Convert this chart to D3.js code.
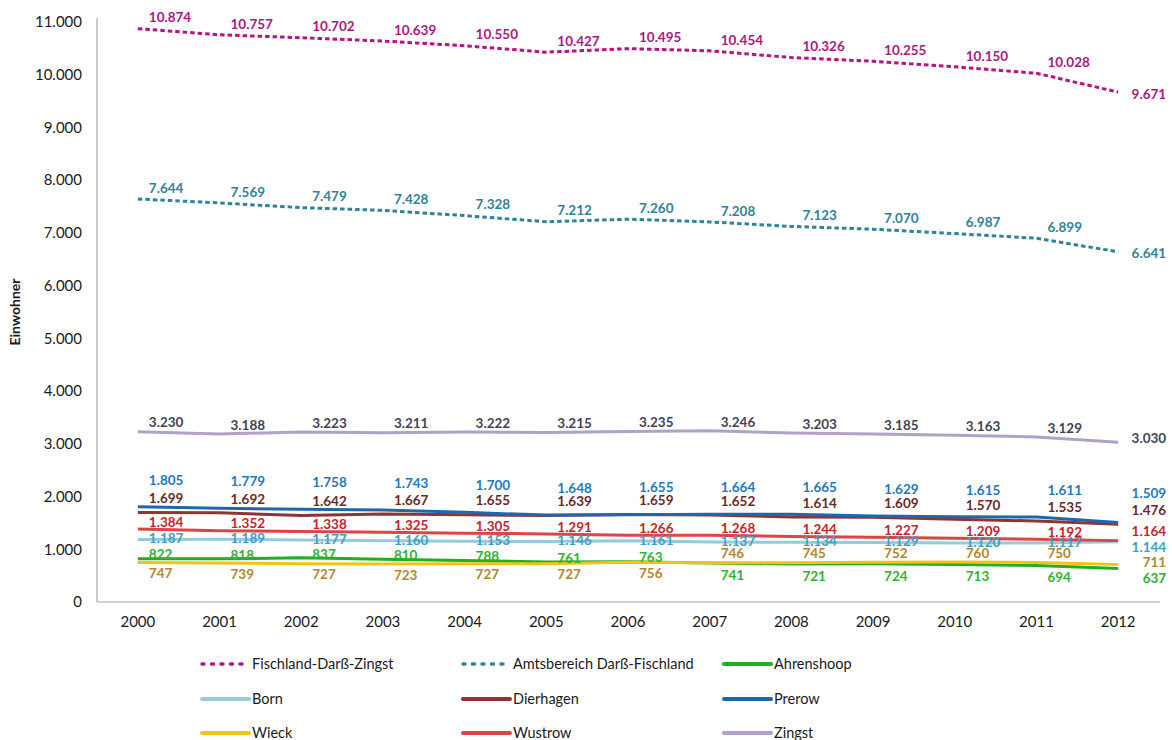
<!DOCTYPE html>
<html>
<head>
<meta charset="utf-8">
<script src="https://cdn.jsdelivr.net/npm/d3@7"></script>
<style>
  html, body { margin: 0; padding: 0; background: #fff; }
  svg { display: block; font-family: Lato, "Open Sans", sans-serif; }
</style>
</head>
<body>
<svg id="chart" width="1172" height="740"></svg>
<script>
// Einwohnerentwicklung im Amtsbereich Darß-Fischland, 2000–2012
const years = ["2000","2001","2002","2003","2004","2005","2006","2007","2008","2009","2010","2011","2012"];
const yTicks = [0,1000,2000,3000,4000,5000,6000,7000,8000,9000,10000,11000];

const fischlandDarssZingst = [10874,10757,10702,10639,10550,10427,10495,10454,10326,10255,10150,10028,9671];
const amtsbereichDarssFischland = [7644,7569,7479,7428,7328,7212,7260,7208,7123,7070,6987,6899,6641];
const ahrenshoop = [822,818,837,810,788,761,763,741,721,724,713,694,637];
const born = [1187,1189,1177,1160,1153,1146,1161,1137,1134,1129,1120,1117,1144];
const dierhagen = [1699,1692,1642,1667,1655,1639,1659,1652,1614,1609,1570,1535,1476];
const prerow = [1805,1779,1758,1743,1700,1648,1655,1664,1665,1629,1615,1611,1509];
const wieck = [747,739,727,723,727,727,756,746,745,752,760,750,711];
const wustrow = [1384,1352,1338,1325,1305,1291,1266,1268,1244,1227,1209,1192,1164];
const zingst = [3230,3188,3223,3211,3222,3215,3235,3246,3203,3185,3163,3129,3030];

const seriesNames = ["Fischland-Darß-Zingst","Amtsbereich Darß-Fischland","Ahrenshoop","Born","Dierhagen","Prerow","Wieck","Wustrow","Zingst"];
const seriesValues = [fischlandDarssZingst, amtsbereichDarssFischland, ahrenshoop, born, dierhagen, prerow, wieck, wustrow, zingst];

// Styling per series: line colour, label colour, dashed, label offset, end-label offset
const styles = {
  "Fischland-Darß-Zingst":      {line:"#b8137f", text:"#b0177c", dash:true,  dy:-11, endDy:2},
  "Amtsbereich Darß-Fischland": {line:"#2f8399", text:"#2f8399", dash:true,  dy:-11, endDy:1},
  "Ahrenshoop":                 {line:"#1faf1f", text:"#2eb42e", dash:false, dy:-4,  endDy:10},
  "Born":                       {line:"#93cbdc", text:"#3f9ec2", dash:false, dy:-1,  endDy:6},
  "Dierhagen":                  {line:"#8e3432", text:"#6a2a28", dash:false, dy:-14, endDy:-14},
  "Prerow":                     {line:"#1d68ad", text:"#2279c3", dash:false, dy:-27, endDy:-29},
  "Wieck":                      {line:"#f2c314", text:"#b1872d", dash:false, dy:11,  endDy:-2},
  "Wustrow":                    {line:"#de4444", text:"#c4232b", dash:false, dy:-7,  endDy:-9},
  "Zingst":                     {line:"#b1a1c8", text:"#434356", dash:false, dy:-9,  endDy:-4}
};

const de = d3.formatLocale({decimal: ",", thousands: ".", grouping: [3], currency: ["", " €"]});
const fmt = de.format(",");

const svg = d3.select("#chart");
const x = d3.scaleBand().domain(years).range([97, 1159]);
const y = d3.scaleLinear().domain([0, 11000]).range([602, 22]);
const px = yr => x(yr) + x.bandwidth() / 2;

// Axes
const yAxis = svg.append("g").attr("transform", "translate(97,0)")
  .call(d3.axisLeft(y).tickValues(yTicks).tickFormat(fmt).tickSize(0).tickPadding(15));
yAxis.select(".domain").attr("stroke", "#a6a6a6").attr("stroke-width", 1.2).attr("d", "M0,18V602");
yAxis.selectAll("text").attr("font-size", 15).attr("fill", "#1a1a1a").attr("font-family", "Lato, sans-serif");

const xAxis = svg.append("g").attr("transform", "translate(0,602)")
  .call(d3.axisBottom(x).tickSize(0).tickPadding(14));
xAxis.select(".domain").attr("stroke", "#a6a6a6").attr("stroke-width", 1.2).attr("d", "M97,0H1160");
xAxis.selectAll("text").attr("font-size", 15).attr("fill", "#1a1a1a").attr("font-family", "Lato, sans-serif");

svg.append("text")
  .attr("transform", "translate(20,312) rotate(-90)")
  .attr("text-anchor", "middle")
  .attr("font-size", 14).attr("font-weight", 700).attr("fill", "#1a1a1a")
  .text("Einwohner");

// Lines
const line = d3.line().x((d, i) => px(years[i])).y(d => y(d));
seriesNames.forEach((name, k) => {
  const s = styles[name];
  svg.append("path")
    .datum(seriesValues[k])
    .attr("fill", "none")
    .attr("stroke", s.line)
    .attr("stroke-width", 3)
    .attr("stroke-dasharray", s.dash ? "4.5,3" : null)
    .attr("stroke-linejoin", "round")
    .attr("d", line);
});

// Data labels
seriesNames.forEach((name, k) => {
  const s = styles[name];
  const vals = seriesValues[k];
  const last = vals.length - 1;
  svg.append("g").selectAll("text")
    .data(vals)
    .join("text")
    .attr("x", (d, i) => i === last ? px(years[i]) + 48 : px(years[i]) + 11)
    .attr("y", (d, i) => {
      let dy = i === last ? s.endDy : s.dy;
      // Ahrenshoop and Wieck swap sides depending on which one is higher
      if (i !== last && name === "Wieck") dy = wieck[i] > ahrenshoop[i] ? -9 : 11;
      if (i !== last && name === "Ahrenshoop") dy = ahrenshoop[i] > wieck[i] ? -4 : 12;
      return y(d) + dy;
    })
    .attr("dy", "0.35em")
    .attr("text-anchor", (d, i) => i === last ? "end" : "start")
    .attr("font-size", 13.5)
    .attr("font-weight", 700)
    .attr("fill", s.text)
    .text(d => fmt(d));
});

// Legend
const legendCols = [200, 461, 722];
const legendRows = [664, 699, 733];
seriesNames.forEach((name, k) => {
  const s = styles[name];
  const lx = legendCols[k % 3], ly = legendRows[Math.floor(k / 3)];
  const g = svg.append("g").attr("transform", `translate(${lx},${ly})`);
  g.append("line")
    .attr("x1", 2).attr("x2", 49).attr("y1", 0).attr("y2", 0)
    .attr("stroke", s.line)
    .attr("stroke-width", s.dash ? 3.5 : 4)
    .attr("stroke-linecap", "round")
    .attr("stroke-dasharray", s.dash ? "2,7.5" : null);
  g.append("text")
    .attr("x", 52).attr("y", 0).attr("dy", "0.35em")
    .attr("font-size", 14.5).attr("fill", "#1a1a1a")
    .text(name);
});
</script>
</body>
</html>
